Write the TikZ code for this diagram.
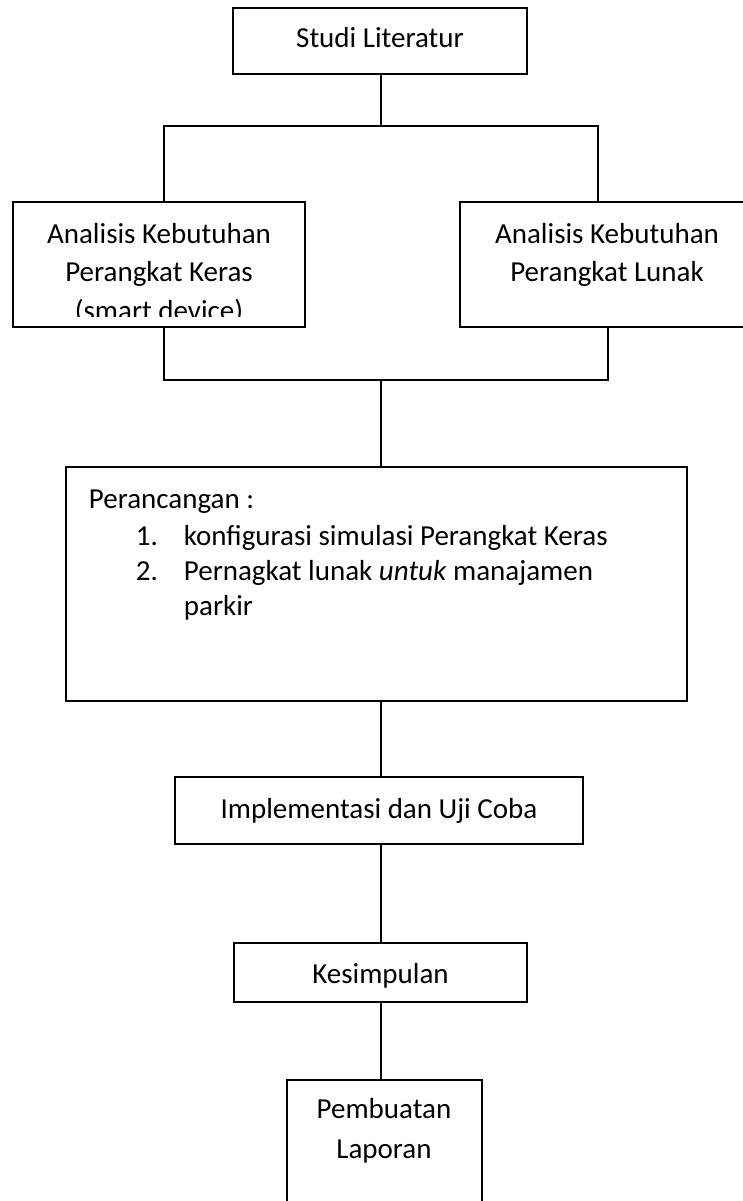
\documentclass[tikz,border=0pt]{standalone}
\usepackage{fontspec}
\setmainfont{Carlito}
\begin{document}
\begin{tikzpicture}[x=1pt,y=-1pt,line width=1.8pt,
  box/.style={draw,rectangle,inner sep=0pt,outer sep=0pt},
  txt/.style={font=\fontsize{29}{38}\selectfont,inner sep=0pt,anchor=base},
  ltxt/.style={font=\fontsize{29}{38}\selectfont,inner sep=0pt,anchor=base west}]
\useasboundingbox (0,0) rectangle (742,1201);
% boxes
\node[box,minimum width=294pt,minimum height=66pt] (studi) at (380,41) {};
\node[box,minimum width=292pt,minimum height=125pt] (lbox) at (159,264.5) {};
\node[box,minimum width=285pt,minimum height=125pt] (rbox) at (602.5,264.5) {};
\node[box,minimum width=621pt,minimum height=234pt] (peran) at (376.5,584) {};
\node[box,minimum width=408pt,minimum height=67pt] (impl) at (379,810.5) {};
\node[box,minimum width=293pt,minimum height=59pt] (kes) at (380.5,972.5) {};
\node[box,minimum width=195pt,minimum height=126pt] (pemb) at (384.5,1143) {};
% texts
\node[txt] (t1) at (380,48) {Studi Literatur};
\node[txt] (t2a) at (159,243) {Analisis Kebutuhan};
\node[txt] (t2b) at (159,281) {Perangkat Keras};
\begin{scope}
  \clip (13,295) rectangle (305,316);
  \node[txt] (t2c) at (159,320) {(smart device)};
\end{scope}
\node[txt] (t3a) at (607,243) {Analisis Kebutuhan};
\node[txt] (t3b) at (607,281) {Perangkat Lunak};
\node[ltxt] (p0) at (88,508) {Perancangan :};
\node[ltxt] (p1n) at (135,545) {1.};
\node[ltxt] (p1) at (183,545) {konfigurasi simulasi Perangkat Keras};
\node[ltxt] (p2n) at (135,580) {2.};
\node[ltxt] (p2) at (183,580) {Pernagkat lunak \textit{untuk} manajamen};
\node[ltxt] (p3) at (183,615) {parkir};
\node[txt] (t5) at (379,818) {Implementasi dan Uji Coba};
\node[txt] (t6) at (380.5,983) {Kesimpulan};
\node[txt] (t7a) at (384,1118) {Pembuatan};
\node[txt] (t7b) at (384,1158) {Laporan};
% connectors
\coordinate (ja) at (381,126);
\coordinate (jl) at (164,126);
\coordinate (jr) at (598,126);
\coordinate (kl) at (164,380);
\coordinate (kr) at (608,380);
\coordinate (kc) at (381,380);
\draw (studi.south -| ja) -- (ja);
\draw (jl |- lbox.north) -- (jl) -- (jr) -- (jr |- rbox.north);
\draw (kl |- lbox.south) -- (kl) -- (kr) -- (kr |- rbox.south);
\draw (kc) -- (kc |- peran.north);
\draw (peran.south -| kc) -- (impl.north -| kc);
\draw (impl.south -| kc) -- (kes.north -| kc);
\draw (kes.south -| kc) -- (pemb.north -| kc);
\end{tikzpicture}
\end{document}
